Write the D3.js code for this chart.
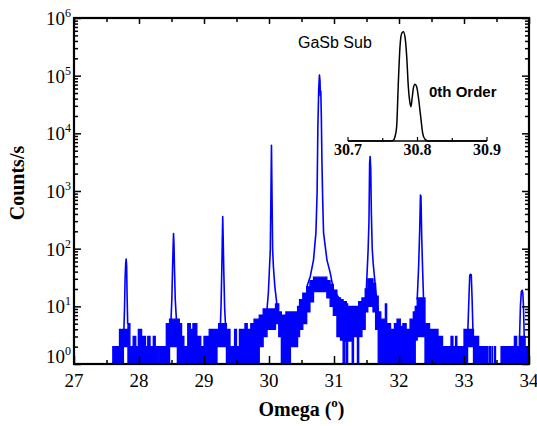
<!DOCTYPE html>
<html><head><meta charset="utf-8">
<script src="https://cdn.jsdelivr.net/npm/d3@7"></script>
<style>body{margin:0;background:#fff} svg{display:block}</style>
</head><body>
<svg id="c" width="537" height="426"></svg>
<script>
// ---------- DATA ----------
// noisy background band: segment start omega, upper and lower counts of the band
const bandOmega = [27.587,27.700,27.760,27.830,27.860,27.910,27.950,27.990,28.040,28.060,28.100,28.135,28.170,28.220,28.250,28.290,28.310,28.360,28.380,28.420,28.470,28.590,28.620,28.655,28.690,28.750,28.790,28.830,28.890,28.950,29.000,29.080,29.200,29.225,29.345,29.400,29.470,29.500,29.545,29.570,29.590,29.630,29.665,29.720,29.770,29.850,29.910,29.970,30.100,30.150,30.190,30.260,30.330,30.440,30.470,30.520,30.580,30.630,30.685,30.722,30.840,30.890,30.940,30.990,31.045,31.100,31.140,31.165,31.190,31.210,31.280,31.300,31.360,31.380,31.430,31.480,31.520,31.600,31.640,31.680,31.720,31.790,31.810,31.870,31.930,31.970,32.020,32.060,32.110,32.170,32.220,32.250,32.280,32.400,32.470,32.490,32.600,32.670,32.800,32.830,32.870,32.890,33.000,33.055,33.146,33.225,33.260,33.310,33.330,33.350,33.360,33.370,33.395,33.405,33.430,33.440,33.470,33.485,33.570,33.620,33.640,33.700,33.720,33.775,33.810,33.850,33.940,34.000];
const bandHi    = [2,4,4,5,2,3,2,4,2,3,2,3,2,3,2,2,2,2,2,5,6,6,5,3,2,5,4,5,3,2,3,4,4,5,4,2,4,2,4,3,4,5,4,5,6,7,9,9,11,8,7,8,8,10,13,17,22,28,32,32,32,28,24,19,14,13,12,12,11,10,9,10,10,12,14,20,30,25,15,8,6,11,5,4,5,6,4.5,5,4,6,8,10,14,5,4,4,3,2,3,2,3,2,4,4,3,2,2,2,2,1,2,1,2,1,2,1,2,1,2,2,2,2,2,3,2,3,2,2];
const bandLo    = [1,1,2,1,1,1,1,1,1,1,1,1,1,1,1,2,1,2,1,1,2,1,1,1,1,1,1,1,1,1,1,1,2,2,1,1,1,1,1,1,1,1,1,1,1,2,3,4,5,3,1,1,2,3,4,5,8,12,18,18,18,14,10,7,3,2.6,1,2.5,1,2.5,1,3,1,3,4,8,10,8,4,1,1,1,1,1,1,1,1,1,1,1,1,2.6,3,1,2,1,1,1,1,1,1,1,1,2,1,1,1,2,1,1,1,1,1,1,1,1,1,1,1,2,1,2,1,1,1,1,1,1];

// satellite peak profiles (null separates peaks)
const peakOmega  = [27.768,27.778,27.786,27.795,27.803,27.810,27.816,27.826,null,
  28.490,28.505,28.515,28.524,28.531,28.538,28.547,28.558,28.575,null,
  29.250,29.262,29.274,29.282,29.288,29.295,29.304,29.318,29.335,null,
  29.970,29.990,30.008,30.020,30.030,30.038,30.046,30.056,30.068,30.090,30.125,null,
  30.584,30.635,30.685,30.722,30.740,30.752,30.765,30.776,30.785,30.790,30.797,30.805,30.815,30.826,30.839,30.891,30.942,30.993,31.096,null,
  31.490,31.510,31.525,31.538,31.548,31.556,31.565,31.575,31.588,31.603,31.620,31.640,31.660,31.684,null,
  32.280,32.302,32.318,32.330,32.338,32.350,32.362,32.376,32.391,null,
  33.060,33.075,33.088,33.100,33.112,33.125,33.140,null,
  33.855,33.868,33.882,33.895,33.905,33.915,33.930];
const peakCounts = [4,10,30,55,66,50,17,5,null,
  5,13,40,100,182,120,40,13,6,null,
  4,10,43,150,359,150,43,9,4,null,
  9,17,48,96,930,6230,930,96,48,22,10,null,
  22,33,64,190,935,13300,60000,103000,80000,45000,54000,20000,3000,700,190,64,38,19,13,null,
  13,40,96,300,3000,3960,2500,400,100,55,35,20,12,8,null,
  13,49,200,850,800,150,49,15,5,null,
  4,13,34,36,35,13,3,null,
  3,10,18,19,17,10,2];

// inset: GaSb substrate 0th order (linear scale)
const insetOmega  = [30.700,30.762,30.765,30.7676,30.770,30.7724,30.7748,30.7773,30.7796,30.782,30.7845,30.7868,30.7892,30.7906,30.7925,30.794,30.7964,30.7988,30.8012,30.8046,30.8075,30.8108,30.8155,30.900];
const insetCounts = [0,0,600,4000,13500,54600,88800,101400,103000,98200,79400,51100,35800,32300,41700,49600,53400,51100,41700,22900,7250,1600,0,0];

const xMajor = [27,28,29,30,31,32,33,34];
const xMinor = [27.5,28.5,29.5,30.5,31.5,32.5,33.5];
const yDecades = [1,10,100,1000,10000,100000,1000000];
const yExp = ["0","1","2","3","4","5","6"];
const insetMajor = [30.7,30.8,30.9];
const insetMinor = [30.75,30.85];

// ---------- CHART ----------
const svg = d3.select("#c");
const M = {l:74, r:529, t:18, b:364};
const x = d3.scaleLinear().domain([27,34]).range([M.l,M.r]);
const y = d3.scaleLog().domain([1,1e6]).range([M.b,M.t]);
const BLUE = "#0000ff";
const serif = "'Liberation Serif','Times New Roman',serif";
const sans = "'Liberation Sans',Arial,sans-serif";

svg.append("defs").append("clipPath").attr("id","clip")
  .append("rect").attr("x",M.l).attr("y",M.t).attr("width",M.r-M.l).attr("height",M.b-M.t);

const gd = svg.append("g").attr("clip-path","url(#clip)");
const band = bandOmega.map((o,i)=>({o, hi:bandHi[i], lo:bandLo[i]}));
gd.append("path").datum(band)
  .attr("d", d3.area().curve(d3.curveStepAfter).x(d=>x(d.o)).y0(d=>y(d.lo)).y1(d=>y(d.hi)))
  .attr("fill",BLUE);
["hi","lo"].forEach(k=>{
  gd.append("path").datum(band)
    .attr("d", d3.line().curve(d3.curveStepAfter).x(d=>x(d.o)).y(d=>y(d[k])))
    .attr("fill","none").attr("stroke",BLUE).attr("stroke-width",1.3);
});
const peaks = peakOmega.map((o,i)=>({o, c:peakCounts[i]}));
gd.append("path").datum(peaks)
  .attr("d", d3.line().defined(d=>d.c!=null).x(d=>x(d.o)).y(d=>y(d.c)))
  .attr("fill","none").attr("stroke",BLUE).attr("stroke-width",1.6).attr("stroke-linejoin","round");

// axes (ticks inward)
function styleAxis(g){ g.select(".domain").remove(); g.selectAll("line").attr("stroke","#000").attr("stroke-width",1.5); }
const minorY = y.ticks().filter(v=>!yDecades.includes(v));
svg.append("g").attr("transform",`translate(0,${M.b})`).call(d3.axisBottom(x).tickValues(xMajor).tickSize(-8).tickFormat("")).call(styleAxis);
svg.append("g").attr("transform",`translate(0,${M.b})`).call(d3.axisBottom(x).tickValues(xMinor).tickSize(-4).tickFormat("")).call(styleAxis);
svg.append("g").attr("transform",`translate(0,${M.t})`).call(d3.axisTop(x).tickValues(xMajor).tickSize(-6).tickFormat("")).call(styleAxis);
svg.append("g").attr("transform",`translate(0,${M.t})`).call(d3.axisTop(x).tickValues(xMinor).tickSize(-4).tickFormat("")).call(styleAxis);
svg.append("g").attr("transform",`translate(${M.l},0)`).call(d3.axisLeft(y).tickValues(yDecades).tickSize(-7).tickFormat("")).call(styleAxis);
svg.append("g").attr("transform",`translate(${M.l},0)`).call(d3.axisLeft(y).tickValues(minorY).tickSize(-4).tickFormat("")).call(styleAxis);
svg.append("g").attr("transform",`translate(${M.r},0)`).call(d3.axisRight(y).tickValues(yDecades).tickSize(-7).tickFormat("")).call(styleAxis);
svg.append("g").attr("transform",`translate(${M.r},0)`).call(d3.axisRight(y).tickValues(minorY).tickSize(-4).tickFormat("")).call(styleAxis);

svg.append("rect").attr("x",M.l).attr("y",M.t).attr("width",M.r-M.l).attr("height",M.b-M.t)
  .attr("fill","none").attr("stroke","#000").attr("stroke-width",2.2);

// x tick labels
svg.append("g").selectAll("text").data(xMajor).join("text")
  .attr("x",d=>x(d)).attr("y",M.b+23).attr("text-anchor","middle")
  .attr("font-family",serif).attr("font-size",19).text(d=>d);
// y tick labels 10^n
const yl = svg.append("g").selectAll("text").data(yDecades).join("text")
  .attr("x",M.l-3).attr("y",(d,i)=>y(d)+(i===0?-1:7)).attr("text-anchor","end")
  .attr("font-family",serif).attr("font-size",19);
yl.append("tspan").text("10");
yl.append("tspan").attr("font-size",12).attr("dy",-8).text((d,i)=>yExp[i]);

// axis titles
const xt = svg.append("text").attr("x",(M.l+M.r)/2).attr("y",416).attr("text-anchor","middle")
  .attr("font-family",serif).attr("font-size",20).attr("font-weight","bold");
xt.append("tspan").text("Omega  (");
xt.append("tspan").attr("font-size",13).attr("dy",-9).text("o");
xt.append("tspan").attr("dy",9).text(")");
svg.append("text").attr("transform","translate(24,183) rotate(-90)").attr("text-anchor","middle")
  .attr("font-family",serif).attr("font-size",20).attr("font-weight","bold").text("Counts/s");

// ---------- INSET ----------
const xi = d3.scaleLinear().domain([30.7,30.9]).range([348,487]);
const yi = d3.scaleLinear().domain([0,110000]).range([141,24.3]);
const gi = svg.append("g");
gi.append("line").attr("x1",xi(30.7)).attr("x2",xi(30.9)).attr("y1",yi(0)).attr("y2",yi(0))
  .attr("stroke","#000").attr("stroke-width",1.5);
gi.selectAll("line.mj").data(insetMajor).join("line").attr("class","mj")
  .attr("x1",d=>xi(d)).attr("x2",d=>xi(d)).attr("y1",yi(0)).attr("y2",yi(0)-4).attr("stroke","#000").attr("stroke-width",1.2);
gi.selectAll("line.mn").data(insetMinor).join("line").attr("class","mn")
  .attr("x1",d=>xi(d)).attr("x2",d=>xi(d)).attr("y1",yi(0)).attr("y2",yi(0)-3).attr("stroke","#000").attr("stroke-width",1.2);
gi.append("path").datum(insetOmega.map((o,i)=>({o,c:insetCounts[i]})))
  .attr("d", d3.line().curve(d3.curveMonotoneX).x(d=>xi(d.o)).y(d=>yi(d.c)))
  .attr("fill","none").attr("stroke","#000").attr("stroke-width",1.5);
gi.selectAll("text.tl").data(insetMajor).join("text").attr("class","tl")
  .attr("x",d=>xi(d)).attr("y",155).attr("text-anchor","middle")
  .attr("font-family",serif).attr("font-size",16).attr("font-weight","bold").text(d=>d.toFixed(1));
gi.append("text").attr("x",298).attr("y",48).attr("font-family",sans).attr("font-size",16).text("GaSb Sub");
gi.append("text").attr("x",429).attr("y",97).attr("font-family",sans).attr("font-size",15).attr("font-weight","bold").text("0th Order");
</script>
</body></html>
